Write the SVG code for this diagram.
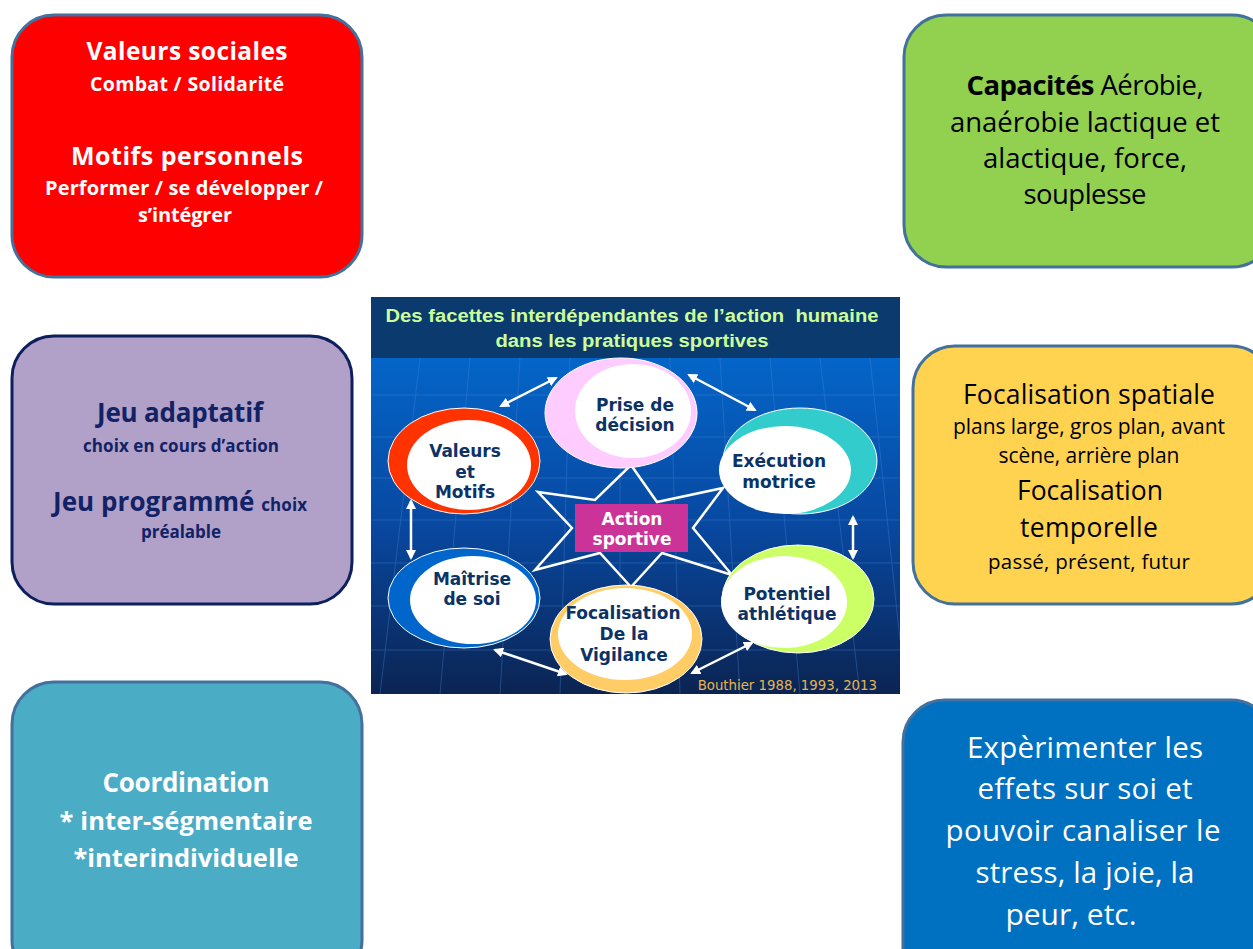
<svg xmlns="http://www.w3.org/2000/svg" width="1253" height="949" viewBox="0 0 1253 949">
<style>
.box{stroke:#41719C;stroke-width:3}
.ob{font-family:"Open Sans","Noto Sans",sans-serif;text-anchor:middle}
.b{font-weight:bold}
.ct{font-family:"DejaVu Sans","Verdana",sans-serif;font-weight:bold;font-size:17px;fill:#0B3366;text-anchor:middle}
.grid{stroke:#4A8AD8;stroke-width:1;opacity:0.35;fill:none}
.link{stroke:#FFFFFF;stroke-width:2.5;fill:none;marker-start:url(#ah);marker-end:url(#ah)}
.outer{stroke:#FFFFFF;stroke-width:1}
</style>
<defs>
<linearGradient id="bg" x1="0" y1="0" x2="0" y2="1">
<stop offset="0" stop-color="#0465C8"/>
<stop offset="0.5" stop-color="#0848A0"/>
<stop offset="1" stop-color="#0B2452"/>
</linearGradient>
<marker id="ah" viewBox="0 0 10 10" refX="8" refY="5" markerWidth="4" markerHeight="4" orient="auto-start-reverse" markerUnits="strokeWidth">
<path d="M0,0 L10,5 L0,10 Z" fill="#FFFFFF"/>
</marker>
<clipPath id="imgclip"><rect x="371" y="297" width="529" height="397"/></clipPath>
</defs>
<rect width="1253" height="949" fill="#FFFFFF"/>

<g id="valeurs-sociales">
<rect class="box" x="12" y="15" width="350" height="262" rx="42" fill="#FF0000"/>
<text class="ob b" fill="#FFFFFF" font-size="24.5" x="187" y="60" textLength="201">Valeurs sociales</text>
<text class="ob b" fill="#FFFFFF" font-size="19.5" x="187" y="91" textLength="194">Combat / Solidarité</text>
<text class="ob b" fill="#FFFFFF" font-size="25" x="187" y="165" textLength="232">Motifs personnels</text>
<text class="ob b" fill="#FFFFFF" font-size="20" x="184" y="195" textLength="278">Performer / se développer /</text>
<text class="ob b" fill="#FFFFFF" font-size="20" x="185" y="222" textLength="94">s’intégrer</text>
</g>

<g id="capacites">
<rect class="box" x="904" y="15" width="370" height="252" rx="42" fill="#92D050"/>
<text class="ob" fill="#000000" font-size="27.5" x="1085" y="95" textLength="237"><tspan class="b">Capacités</tspan> Aérobie,</text>
<text class="ob" fill="#000000" font-size="27.5" x="1085" y="132" textLength="270">anaérobie lactique et</text>
<text class="ob" fill="#000000" font-size="27.5" x="1085" y="168" textLength="204">alactique, force,</text>
<text class="ob" fill="#000000" font-size="27.5" x="1085" y="204" textLength="123">souplesse</text>
</g>

<g id="jeu">
<rect x="12" y="336" width="340" height="268" rx="42" fill="#B1A0C7" stroke="#0E1F5E" stroke-width="3"/>
<text class="ob b" fill="#112266" font-size="26" x="180" y="422" textLength="166">Jeu adaptatif</text>
<text class="ob b" fill="#112266" font-size="17" x="181" y="452" textLength="196">choix en cours d’action</text>
<text class="ob b" fill="#112266" font-size="26" x="180" y="511" textLength="254">Jeu programmé <tspan font-size="17">choix</tspan></text>
<text class="ob b" fill="#112266" font-size="17" x="181" y="538" textLength="80">préalable</text>
</g>

<g id="focalisation">
<rect class="box" x="913" y="346" width="360" height="258" rx="42" fill="#FFD34F"/>
<text class="ob" fill="#000000" font-size="26.5" x="1089" y="404" textLength="252">Focalisation spatiale</text>
<text class="ob" fill="#000000" font-size="21" x="1089" y="434" textLength="272">plans large, gros plan, avant</text>
<text class="ob" fill="#000000" font-size="21" x="1089" y="463" textLength="181">scène, arrière plan</text>
<text class="ob" fill="#000000" font-size="26.5" x="1090" y="500" textLength="146">Focalisation</text>
<text class="ob" fill="#000000" font-size="26.5" x="1089" y="537" textLength="138">temporelle</text>
<text class="ob" fill="#000000" font-size="20.5" x="1089" y="569" textLength="202">passé, présent, futur</text>
</g>

<g id="coordination">
<rect class="box" x="12" y="682" width="350" height="300" rx="42" fill="#4BACC6"/>
<text class="ob b" fill="#FFFFFF" font-size="26" x="186" y="792" textLength="167">Coordination</text>
<text class="ob b" fill="#FFFFFF" font-size="25.5" x="186" y="830" textLength="253">* inter-ségmentaire</text>
<text class="ob b" fill="#FFFFFF" font-size="25.5" x="186" y="867" textLength="225">*interindividuelle</text>
</g>

<g id="experimenter">
<rect class="box" x="903" y="700" width="370" height="290" rx="42" fill="#0070C0"/>
<text class="ob" fill="#FFFFFF" font-size="29.5" x="1085" y="758" textLength="236">Expèrimenter les</text>
<text class="ob" fill="#FFFFFF" font-size="29.5" x="1085" y="799" textLength="215">effets sur soi et</text>
<text class="ob" fill="#FFFFFF" font-size="29.5" x="1083" y="841" textLength="275">pouvoir canaliser le</text>
<text class="ob" fill="#FFFFFF" font-size="29.5" x="1085" y="883" textLength="219">stress, la joie, la</text>
<text class="ob" fill="#FFFFFF" font-size="30" x="1071" y="925">peur, etc.</text>
</g>

<g id="schema">
<g clip-path="url(#imgclip)">
<rect x="371" y="358" width="529" height="336" fill="url(#bg)"/>
<g class="grid">
<line x1="371" y1="395" x2="900" y2="395"/>
<line x1="371" y1="437" x2="900" y2="437"/>
<line x1="371" y1="478" x2="900" y2="478"/>
<line x1="371" y1="520" x2="900" y2="520"/>
<line x1="371" y1="563" x2="900" y2="563"/>
<line x1="371" y1="606" x2="900" y2="606"/>
<line x1="371" y1="650" x2="900" y2="650"/>
<line x1="420" y1="358" x2="380" y2="694"/>
<line x1="470" y1="358" x2="440" y2="694"/>
<line x1="520" y1="358" x2="500" y2="694"/>
<line x1="570" y1="358" x2="560" y2="694"/>
<line x1="620" y1="358" x2="620" y2="694"/>
<line x1="670" y1="358" x2="680" y2="694"/>
<line x1="720" y1="358" x2="740" y2="694"/>
<line x1="770" y1="358" x2="800" y2="694"/>
<line x1="820" y1="358" x2="860" y2="694"/>
<line x1="870" y1="358" x2="900" y2="640"/>
</g>
</g>
<rect x="371" y="297" width="529" height="61" fill="#0B3A6E"/>
<text xml:space="preserve" x="632" y="322" font-family="'Liberation Sans',Arial,sans-serif" font-weight="bold" font-size="17.5" fill="#CCFF99" text-anchor="middle" textLength="493" lengthAdjust="spacingAndGlyphs">Des facettes interdépendantes de l’action  humaine</text>
<text x="632" y="347" font-family="'Liberation Sans',Arial,sans-serif" font-weight="bold" font-size="17.5" fill="#CCFF99" text-anchor="middle" textLength="273" lengthAdjust="spacingAndGlyphs">dans les pratiques sportives</text>
<text x="877" y="690" font-family="'DejaVu Sans',Verdana,sans-serif" font-size="13.3" fill="#E6B450" text-anchor="end">Bouthier 1988, 1993, 2013</text>
</g>

<g id="connectors">
<line class="link" x1="501" y1="406" x2="556" y2="378"/>
<line class="link" x1="689" y1="375" x2="755" y2="410"/>
<line class="link" x1="411" y1="501" x2="411" y2="558"/>
<line class="link" x1="853" y1="517" x2="853" y2="558"/>
<line class="link" x1="495" y1="650" x2="566" y2="674"/>
<line class="link" x1="692" y1="673" x2="752" y2="643"/>
</g>

<g id="star">
<polygon points="631,465 657,502 723,488 693,528 732,575 662,553 631,587 600,553 535,570 572,528 538,492 595,500" fill="none" stroke="#FFFFFF" stroke-width="2.5" stroke-linejoin="miter"/>
</g>

<g id="prise-decision">
<ellipse class="outer" cx="621" cy="413" rx="76" ry="55" fill="#FFCCFF"/>
<ellipse cx="633" cy="411" rx="58" ry="47" fill="#FFFFFF"/>
<text class="ct" x="635" y="411">Prise de</text>
<text class="ct" x="635" y="431">décision</text>
</g>

<g id="valeurs-motifs">
<ellipse class="outer" cx="464" cy="461" rx="76" ry="53" fill="#FF3300"/>
<ellipse cx="469" cy="465" rx="62" ry="45" fill="#FFFFFF"/>
<text class="ct" x="465" y="457">Valeurs</text>
<text class="ct" x="465" y="478">et</text>
<text class="ct" x="465" y="498">Motifs</text>
</g>

<g id="execution-motrice">
<ellipse class="outer" cx="800" cy="461" rx="77" ry="53" fill="#33CCCC"/>
<ellipse cx="785" cy="470" rx="66" ry="44" fill="#FFFFFF"/>
<text class="ct" x="779" y="467">Exécution</text>
<text class="ct" x="779" y="488">motrice</text>
</g>

<g id="maitrise-soi">
<ellipse class="outer" cx="464" cy="598" rx="76" ry="50" fill="#0066CC"/>
<ellipse cx="473" cy="600" rx="63" ry="44" fill="#FFFFFF"/>
<text class="ct" x="472" y="585">Maîtrise</text>
<text class="ct" x="472" y="605">de soi</text>
</g>

<g id="focalisation-vigilance">
<ellipse class="outer" cx="626" cy="639" rx="76" ry="54" fill="#FFCC66"/>
<ellipse cx="625" cy="634" rx="67" ry="46" fill="#FFFFFF"/>
<text class="ct" x="623" y="619">Focalisation</text>
<text class="ct" x="624" y="640">De la</text>
<text class="ct" x="624" y="661">Vigilance</text>
</g>

<g id="potentiel-athletique">
<ellipse class="outer" cx="798" cy="599" rx="76" ry="54" fill="#CCFF66"/>
<ellipse cx="784" cy="602" rx="63" ry="46" fill="#FFFFFF"/>
<text class="ct" x="787" y="600">Potentiel</text>
<text class="ct" x="787" y="620">athlétique</text>
</g>

<g id="action-sportive">
<rect x="575" y="504" width="113" height="48" fill="#CC3399"/>
<text class="ct" x="632" y="525" style="fill:#FFFFFF">Action</text>
<text class="ct" x="632" y="545" style="fill:#FFFFFF">sportive</text>
</g>
</svg>
